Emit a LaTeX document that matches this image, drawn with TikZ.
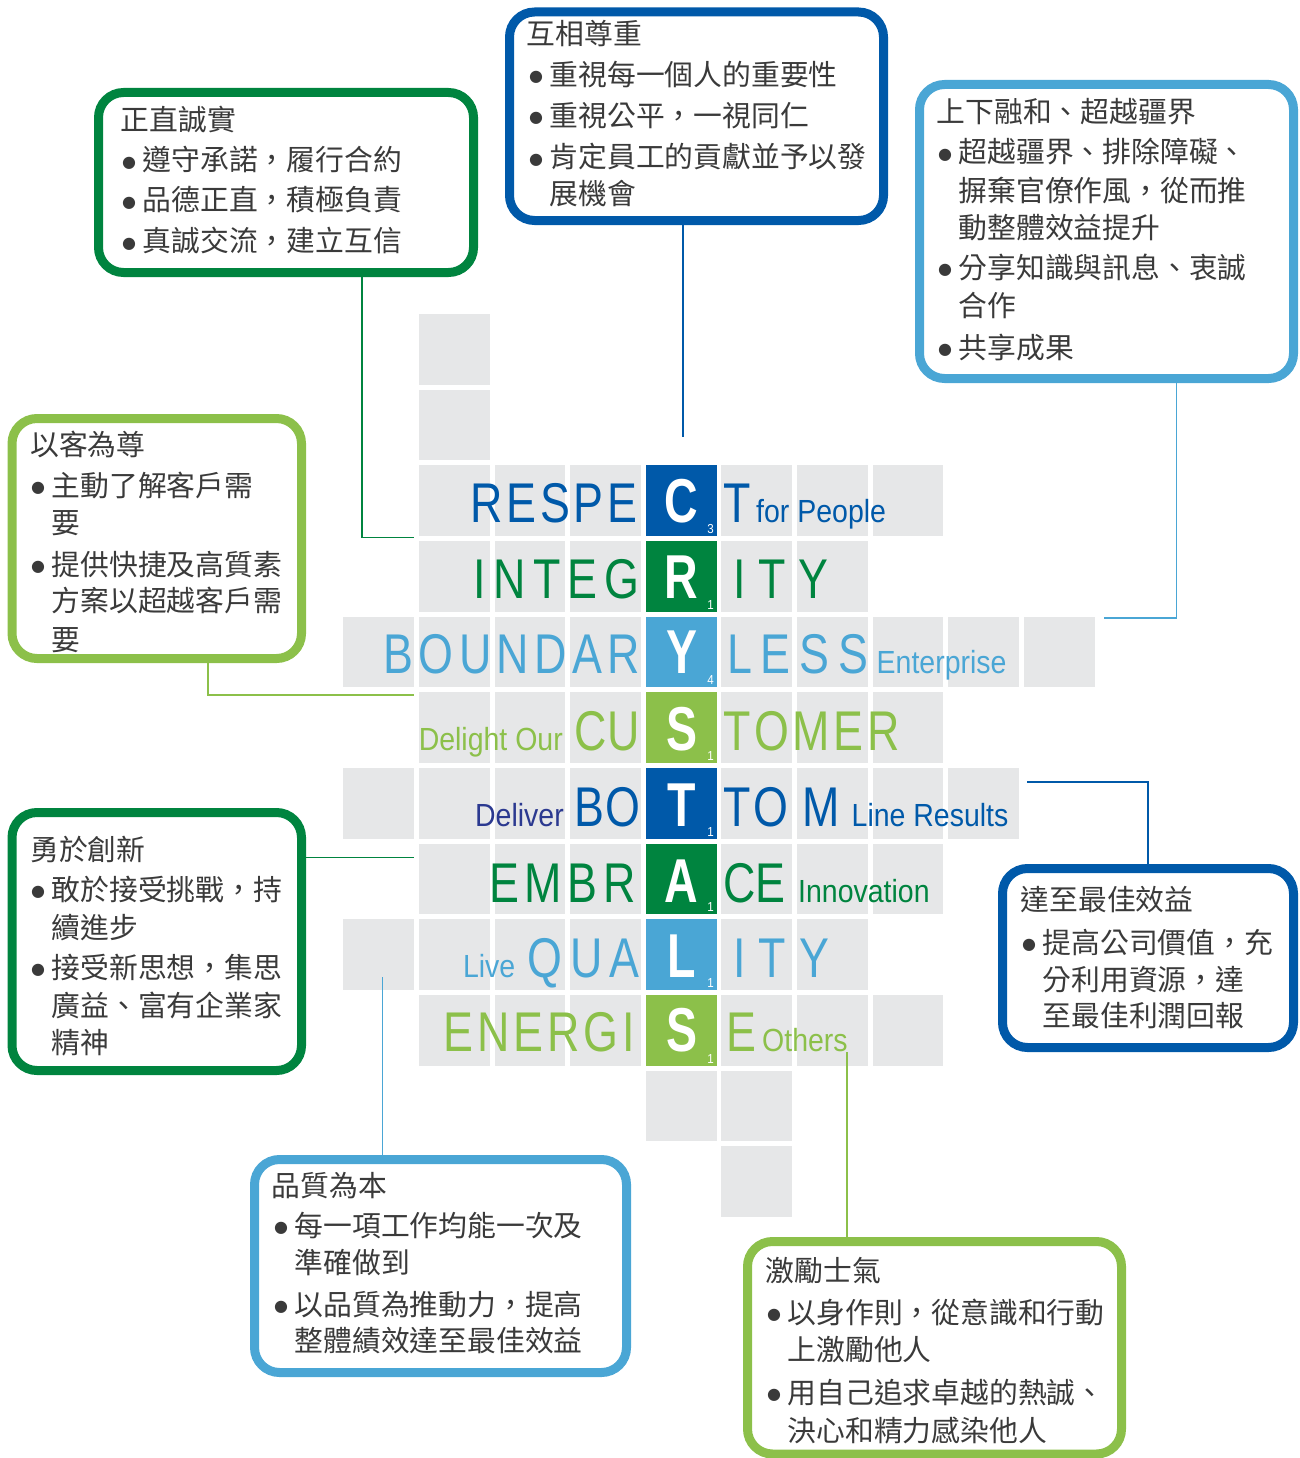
\documentclass[tikz,border=0pt]{standalone}
\usepackage{fontspec}
\newfontfamily\cjk{Noto Sans CJK TC}
\newfontfamily\bigf[FakeStretch=0.8]{Liberation Sans}
\newfontfamily\keyf[FakeStretch=0.75]{Liberation Sans}
\newfontfamily\smf[FakeStretch=0.89]{Liberation Sans}
\newfontfamily\dv{DejaVu Sans}
\definecolor{dblue}{HTML}{0059A9}
\definecolor{dgreen}{HTML}{00843F}
\definecolor{lblue}{HTML}{4AA6D5}
\definecolor{lime}{HTML}{8CC04A}
\definecolor{cgray}{HTML}{E6E7E8}
\definecolor{navy}{HTML}{2B3990}
\definecolor{txtc}{HTML}{3A3A3A}
\newcommand\spr[2]{\hbox to #1pt{#2}}
\newcommand\bul{\makebox[20.5pt][l]{\raisebox{3.3pt}{\dv\fontsize{16}{16}\selectfont ●}}}
\tikzset{
 cell/.style={fill=cgray, minimum size=70.7pt, inner sep=0pt, outer sep=0pt},
 bx/.style={draw=#1, line width=9pt, rounded corners=25pt, inner sep=0pt},
 txt/.style={font=\cjk\fontsize{28.8}{34}\selectfont, text=txtc, inner sep=0pt, anchor=base west},
 big/.style={font=\bigf\fontsize{56}{60}\selectfont, text=#1, inner sep=0pt, anchor=base west},
 sm/.style={font=\smf\fontsize{32}{36}\selectfont, text=#1, inner sep=0pt},
 key/.style={font=\keyf\bfseries\fontsize{62}{66}\selectfont, text=white, inner sep=0pt, anchor=base},
 num/.style={font=\smf\fontsize{13}{14}\selectfont, text=white, inner sep=0pt, anchor=base east},
 con/.style={draw=#1, line width=1.3pt},
}
\begin{document}
\begin{tikzpicture}[x=1pt,y=-1pt]
\useasboundingbox (0,0) rectangle (1299,1458);

% grey cells
\foreach \r/\cl in {0/{1},1/{1},2/{1,2,3,5,6,7},3/{1,2,3,5,6},4/{0,1,2,3,5,6,7,8,9},5/{1,2,3,5,6,7},6/{0,1,2,3,5,6,7,8},7/{1,2,3,5,6,7},8/{0,1,2,3,5,6},9/{1,2,3,5,6,7},10/{4,5},11/{5}}{
  \foreach \c in \cl {
    \node[cell] (c-\r-\c) at ({378.55+75.65*\c},{349.35+75.65*\r}) {};
  }
}
% coloured key column
\foreach \r/\col in {2/dblue,3/dgreen,4/lblue,5/lime,6/dblue,7/dgreen,8/lblue,9/lime}{
  \node[cell, fill=\col] (k-\r) at (681.15,{349.35+75.65*\r}) {};
}

% connector ends
\coordinate (e1) at (414,537.5);
\coordinate (e2) at (683,436.5);
\coordinate (e3) at (1104,618);
\coordinate (e4) at (413.5,695);
\coordinate (e5) at (414,857.5);
\coordinate (e6) at (1027,782);
\coordinate (e7) at (382.5,977);
\coordinate (e8) at (847,1052);

% boxes
\node[bx=dgreen, minimum width=375pt, minimum height=180pt] (b1) at (286,182.5) {};
\node[bx=dblue, minimum width=374pt, minimum height=208.5pt] (b2) at (696.5,116.25) {};
\node[bx=lblue, minimum width=374pt, minimum height=294pt] (b3) at (1106.5,231.5) {};
\node[bx=lime, minimum width=289.5pt, minimum height=240pt] (b4) at (156.75,538.5) {};
\node[bx=dgreen, minimum width=289.5pt, minimum height=258pt] (b5) at (156.75,941.5) {};
\node[bx=dblue, minimum width=291pt, minimum height=179pt] (b6) at (1148,958) {};
\node[bx=lblue, minimum width=372pt, minimum height=213pt] (b7) at (440.5,1266) {};
\node[bx=lime, minimum width=374pt, minimum height=212.5pt] (b8) at (934.5,1347.75) {};

\draw[con=dgreen] (362,0 |- b1.south) |- (e1);
\draw[con=dblue] (683,0 |- b2.south) -- (e2);
\draw[con=lblue] (1176.5,0 |- b3.south) |- (e3);
\draw[con=lime] (208,0 |- b4.south) |- (e4);
\draw[con=dgreen] (b5.east |- e5) -- (e5);
\draw[con=dblue] (1148,0 |- b6.north) |- (e6);
\draw[con=lblue] (382.5,0 |- b7.north) -- (e7);
\draw[con=lime] (847,0 |- b8.north) -- (e8);

% words
\node[big=dblue] (w2a) at (470.4,522) {\spr{166.6}{R\hfil E\hfil S\hfil P\hfil E}};
\node[big=dblue] (w2b) at (723,522) {T};
\node[sm=dblue, anchor=base west] (w2c) at (756,522) {for People};
\node[key] (k2l) at (681.6,522) {C};
\node[num] (n2) at (714,533.3) {3};

\node[big=dgreen] (w3a) at (473.6,598) {\spr{165.9}{I\hfil N\hfil T\hfil E\hfil G}};
\node[big=dgreen] (w3b) at (733,598) {\spr{95.5}{I\hfil T\hfil Y}};
\node[key] (k3l) at (681.6,598) {R};
\node[num] (n3) at (714,609) {1};

\node[big=lblue] (w4a) at (383.5,673) {\spr{256}{B\hfil O\hfil U\hfil N\hfil D\hfil A\hfil R}};
\node[big=lblue] (w4b) at (727,673) {\spr{141.2}{L\hfil E\hfil S\hfil S}};
\node[sm=lblue, anchor=base west] (w4c) at (876.5,673) {Enterprise};
\node[key] (k4l) at (681.6,673) {Y};
\node[num] (n4) at (714,684.6) {4};

\node[sm=lime, anchor=base east] (w5c) at (563,750) {Delight Our};
\node[big=lime] (w5a) at (574.6,750) {\spr{63.4}{C\hfil U}};
\node[big=lime] (w5b) at (722.8,750) {\spr{176.7}{T\hfil O\hfil M\hfil E\hfil R}};
\node[key] (k5l) at (681.6,750) {S};
\node[num] (n5) at (714,760) {1};

\node[sm=navy, anchor=base east] (w6c) at (564,826) {Deliver};
\node[big=dblue] (w6a) at (574.6,826) {\spr{65.9}{B\hfil O}};
\node[big=dblue] (w6b) at (722.8,826) {\spr{65.7}{T\hfil O}};
\node[big=dblue] (w6d) at (802,826) {M};
\node[sm=dblue, anchor=base west] (w6e) at (851.5,826) {Line Results};
\node[key] (k6l) at (681.6,826) {T};
\node[num] (n6) at (714,836) {1};

\node[big=dgreen] (w7a) at (489,902) {\spr{146.5}{E\hfil M\hfil B\hfil R}};
\node[big=dgreen] (w7b) at (722.8,902) {\spr{62.7}{C\hfil E}};
\node[sm=dgreen, anchor=base west] (w7c) at (798,902) {Innovation};
\node[key] (k7l) at (681.6,902) {A};
\node[num] (n7) at (714,911.5) {1};

\node[sm=lblue, anchor=base east] (w8c) at (515.5,977) {Live};
\node[big=lblue] (w8a) at (527.7,977) {\spr{111.8}{Q\hfil U\hfil A}};
\node[big=lblue] (w8b) at (733,977) {\spr{96.1}{I\hfil T\hfil Y}};
\node[key] (k8l) at (681.6,977) {L};
\node[num] (n8) at (714,987) {1};

\node[big=lime] (w9a) at (443,1051) {\spr{191.9}{E\hfil N\hfil E\hfil R\hfil G\hfil I}};
\node[big=lime] (w9b) at (726.4,1051) {E};
\node[sm=lime, anchor=base west] (w9c) at (762,1051) {Others};
\node[key] (k9l) at (681.6,1051) {S};
\node[num] (n9) at (714,1063) {1};

% box 1
\node[txt] (t1a) at (120.5,130.5) {正直誠實};
\node[txt] (t1b) at (122,171) {\bul 遵守承諾，履行合約};
\node[txt] (t1c) at (122,211) {\bul 品德正直，積極負責};
\node[txt] (t1d) at (122,251.5) {\bul 真誠交流，建立互信};
% box 2
\node[txt] (t2a) at (526.5,44.5) {互相尊重};
\node[txt] (t2b) at (529,85.3) {\bul 重視每一個人的重要性};
\node[txt] (t2c) at (529,126.3) {\bul 重視公平，一視同仁};
\node[txt] (t2d) at (529,168) {\bul 肯定員工的貢獻並予以發};
\node[txt] (t2e) at (549.5,204.7) {展機會};
% box 3
\node[txt] (t3a) at (936.5,123) {上下融和、超越疆界};
\node[txt] (t3b) at (938,163) {\bul 超越疆界、排除障礙、};
\node[txt] (t3c) at (958.5,201) {摒棄官僚作風，從而推};
\node[txt] (t3d) at (958.5,238) {動整體效益提升};
\node[txt] (t3e) at (938,278) {\bul 分享知識與訊息、衷誠};
\node[txt] (t3f) at (958.5,316) {合作};
\node[txt] (t3g) at (938,358) {\bul 共享成果};
% box 4
\node[txt] (t4a) at (30,455) {以客為尊};
\node[txt] (t4b) at (31,496) {\bul 主動了解客戶需};
\node[txt] (t4c) at (51.5,533) {要};
\node[txt] (t4d) at (31,575) {\bul 提供快捷及高質素};
\node[txt] (t4e) at (51.5,611) {方案以超越客戶需};
\node[txt] (t4f) at (51.5,650) {要};
% box 5
\node[txt] (t5a) at (30,860) {勇於創新};
\node[txt] (t5b) at (31,900) {\bul 敢於接受挑戰，持};
\node[txt] (t5c) at (51.5,938) {續進步};
\node[txt] (t5d) at (31,978) {\bul 接受新思想，集思};
\node[txt] (t5e) at (51.5,1016) {廣益、富有企業家};
\node[txt] (t5f) at (51.5,1053) {精神};
% box 6
\node[txt] (t6a) at (1020.5,910) {達至最佳效益};
\node[txt] (t6b) at (1022,953) {\bul 提高公司價值，充};
\node[txt] (t6c) at (1042.5,990) {分利用資源，達};
\node[txt] (t6d) at (1042.5,1026) {至最佳利潤回報};
% box 7
\node[txt] (t7a) at (271.5,1196) {品質為本};
\node[txt] (t7b) at (274,1236) {\bul 每一項工作均能一次及};
\node[txt] (t7c) at (294.5,1273) {準確做到};
\node[txt] (t7d) at (274,1315) {\bul 以品質為推動力，提高};
\node[txt] (t7e) at (294.5,1351) {整體績效達至最佳效益};
% box 8
\node[txt] (t8a) at (765.5,1281) {激勵士氣};
\node[txt] (t8b) at (767,1323) {\bul 以身作則，從意識和行動};
\node[txt] (t8c) at (787.5,1360) {上激勵他人};
\node[txt] (t8d) at (767,1403) {\bul 用自己追求卓越的熱誠、};
\node[txt] (t8e) at (787.5,1441) {決心和精力感染他人};
\end{tikzpicture}
\end{document}
